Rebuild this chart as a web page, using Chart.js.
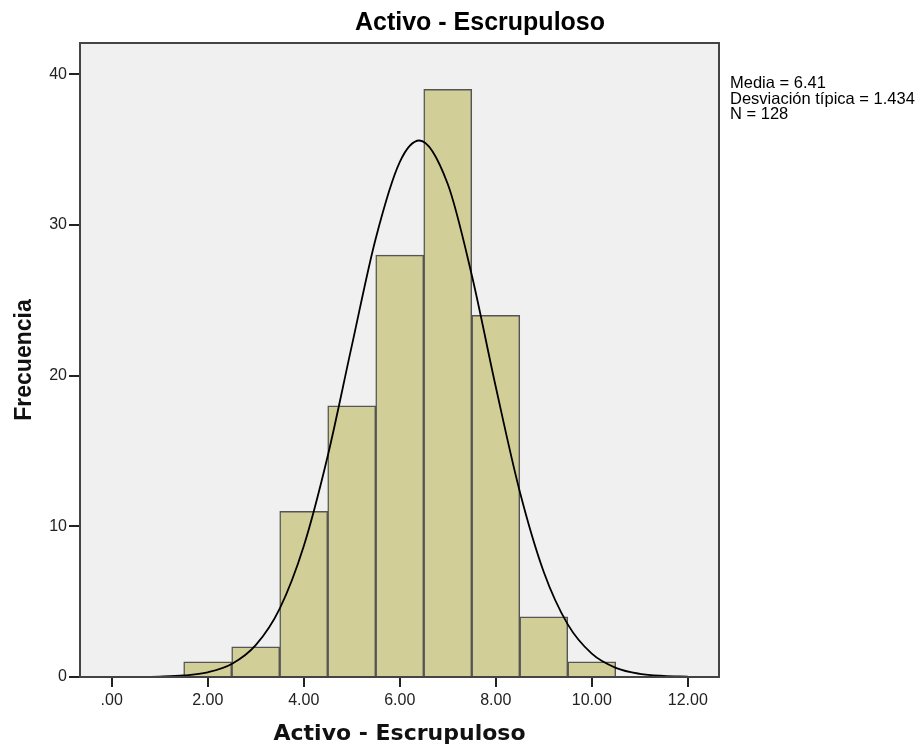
<!DOCTYPE html>
<html><head><meta charset="utf-8">
<script src="https://cdn.jsdelivr.net/npm/chart.js@4.4.1/dist/chart.umd.min.js"></script>
<style>html,body{margin:0;padding:0;background:#fff}#wrap{width:921px;height:750px}</style>
</head><body><div id="wrap"><canvas id="c"></canvas></div>
<script>
const binCenters = [2, 3, 4, 5, 6, 7, 8, 9, 10];
const frequencies = [1, 2, 11, 18, 28, 39, 24, 4, 1];
const curveX = [0, 0.5, 1, 1.5, 2, 2.5, 3, 3.5, 4, 4.5, 5, 5.5, 6, 6.41, 7, 7.5, 8, 8.5, 9, 9.5, 10, 10.5, 11, 11.5, 12];
const curveY = [0.002, 0.007, 0.03, 0.10, 0.31, 0.86, 2.11, 4.54, 8.68, 14.67, 21.96, 29.11, 34.18, 35.61, 32.72, 26.68, 19.26, 12.31, 6.97, 3.49, 1.55, 0.61, 0.21, 0.07, 0.02];
const xTickValues = [0, 2, 4, 6, 8, 10, 12];
const xTickLabels = ['.00', '2.00', '4.00', '6.00', '8.00', '10.00', '12.00'];
const yTickValues = [0, 10, 20, 30, 40];
const statsLines = ['Media = 6.41', 'Desviación típica = 1.434', 'N = 128'];
const chartTitle = 'Activo - Escrupuloso';
const xTitle = 'Activo - Escrupuloso';
const yTitle = 'Frecuencia';

const decor = {
  id: 'decor',
  beforeDraw(chart) {
    const {ctx, chartArea: a} = chart;
    ctx.save();
    ctx.fillStyle = '#F0F0F0';
    ctx.fillRect(a.left, a.top, a.right - a.left, a.bottom - a.top);
    ctx.restore();
  },
  afterDraw(chart) {
    const {ctx, chartArea: a} = chart;
    ctx.save();
    ctx.strokeStyle = '#444';
    ctx.lineWidth = 2;
    ctx.strokeRect(a.left, a.top, a.right - a.left, a.bottom - a.top);
    ctx.fillStyle = '#000';
    ctx.textAlign = 'center';
    ctx.textBaseline = 'alphabetic';
    ctx.font = 'bold 25px "Liberation Sans", Arial, sans-serif';
    ctx.fillText(chartTitle, 480, 30);
    ctx.textAlign = 'left';
    ctx.font = '16.5px "Liberation Sans", Arial, sans-serif';
    statsLines.forEach((t, i) => ctx.fillText(t, 730, 88 + i * 15.5));
    ctx.restore();
  }
};

new Chart(document.getElementById('c'), {
  type: 'bar',
  data: {
    datasets: [
      {
        type: 'line',
        data: curveX.map((x, i) => ({x: x, y: curveY[i]})),
        borderColor: '#000',
        borderWidth: 1.8,
        pointRadius: 0,
        cubicInterpolationMode: 'monotone',
        fill: false,
        order: 0
      },
      {
        type: 'bar',
        data: binCenters.map((x, i) => ({x: x, y: frequencies[i]})),
        backgroundColor: '#D2CE97',
        borderColor: '#555',
        borderWidth: 1.5,
        barPercentage: 1,
        categoryPercentage: 1,
        order: 1
      }
    ]
  },
  options: {
    responsive: true,
    maintainAspectRatio: false,
    animation: false,
    layout: {padding: {top: 43, right: 202, bottom: 0, left: 0}},
    plugins: {legend: {display: false}, tooltip: {enabled: false}, title: {display: false}},
    scales: {
      x: {
        type: 'linear',
        min: -0.66,
        max: 12.65,
        offset: false,
        afterBuildTicks: s => { s.ticks = xTickValues.map(v => ({value: v})); },
        afterFit: s => { s.height = 73; },
        ticks: {
          callback: v => xTickLabels[xTickValues.indexOf(v)],
          font: {family: '"Liberation Sans", Arial, sans-serif', size: 16},
          color: '#222',
          padding: 4,
          maxRotation: 0,
          autoSkip: false
        },
        grid: {offset: false, drawOnChartArea: false, drawTicks: true, tickLength: 10, color: '#222', lineWidth: 2},
        border: {display: false},
        title: {
          display: true,
          text: xTitle,
          color: '#111',
          font: {family: '"DejaVu Sans", sans-serif', weight: 'bold', size: 22},
          padding: {top: 0, bottom: 3}
        }
      },
      y: {
        min: 0,
        max: 42.08,
        afterBuildTicks: s => { s.ticks = yTickValues.map(v => ({value: v})); },
        afterFit: s => { s.width = 80; },
        ticks: {
          font: {family: '"Liberation Sans", Arial, sans-serif', size: 16},
          color: '#222',
          padding: 2
        },
        grid: {drawOnChartArea: false, drawTicks: true, tickLength: 11, color: '#222', lineWidth: 2},
        border: {display: false},
        title: {
          display: true,
          text: yTitle,
          color: '#111',
          font: {family: '"Liberation Sans", Arial, sans-serif', weight: 'bold', size: 23},
          padding: {top: 11, bottom: 0}
        }
      }
    }
  },
  plugins: [decor]
});
</script></body></html>
